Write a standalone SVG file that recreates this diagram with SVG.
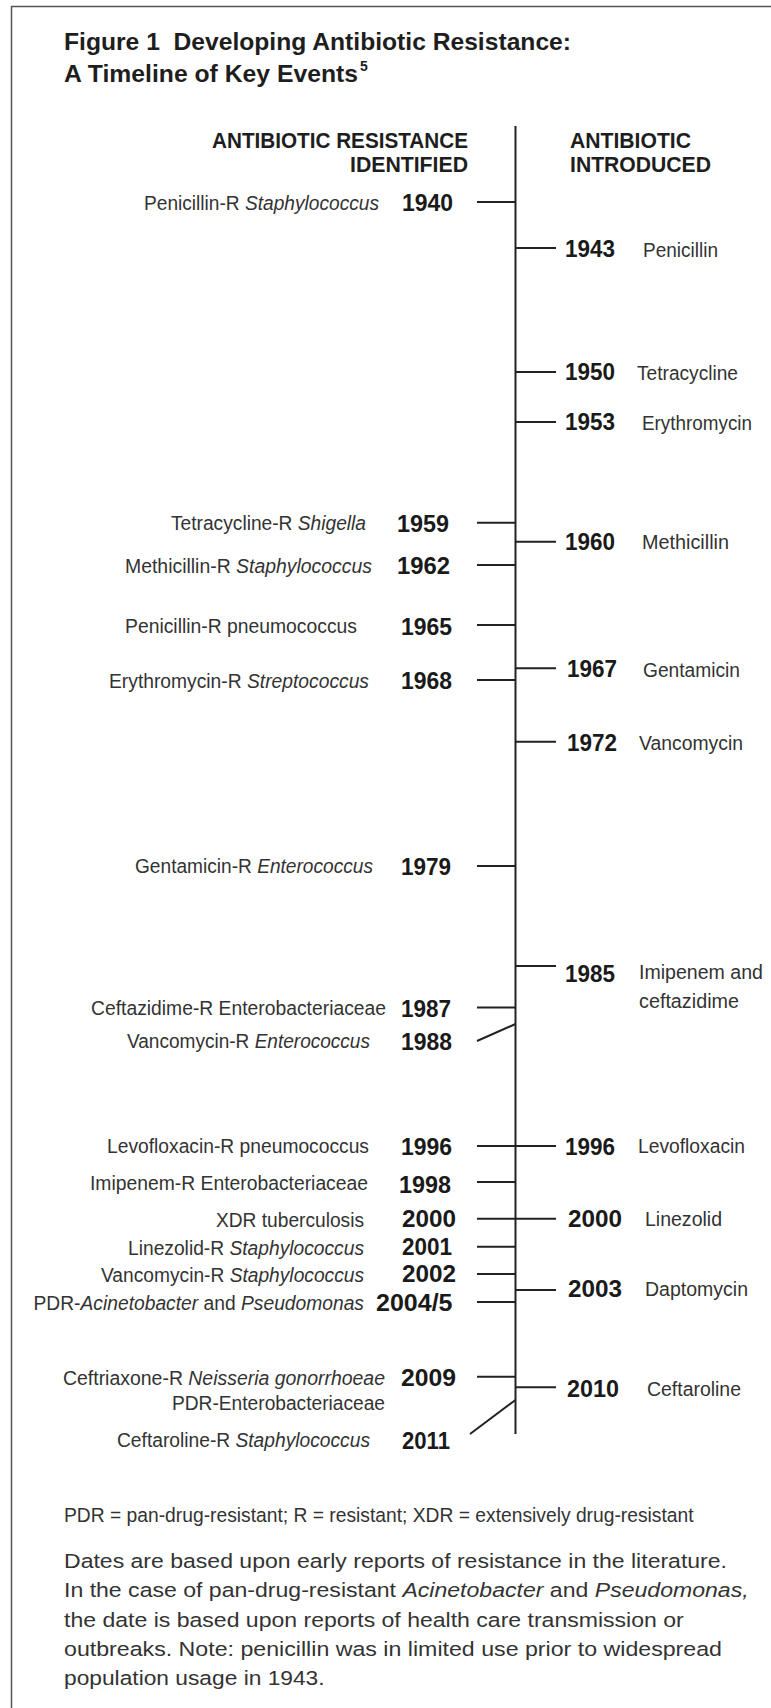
<svg xmlns="http://www.w3.org/2000/svg" width="771" height="1708" viewBox="0 0 771 1708">
<style>
text{font-family:"Liberation Sans",Arial,sans-serif}
.t{font-size:24px;font-weight:bold;fill:#1e1e1e}
.h{font-size:22.5px;font-weight:bold;fill:#1e1e1e}
.l{font-size:19.5px;fill:#333}
.y{font-size:23px;font-weight:bold;fill:#1a1a1a}
.f{font-size:20.5px;fill:#333}
.i{font-style:italic}
.ln{stroke:#222;stroke-width:2;fill:none}
.fr{stroke:#555;stroke-width:1.5;fill:none}
</style>
<rect width="771" height="1708" fill="#fff"/>
<path class="fr" d="M11.5,1708 V6.5 H771"/>
<g id="title">
<text class="t" x="64" y="50" textLength="507" lengthAdjust="spacingAndGlyphs">Figure 1&#160; Developing Antibiotic Resistance:</text>
<text class="t" x="64" y="82" textLength="294" lengthAdjust="spacingAndGlyphs">A Timeline of Key Events</text>
<text x="360" y="71" style="font-size:14px;font-weight:bold;fill:#1e1e1e">5</text>
</g>
<g id="headers">
<text class="h" x="212" y="148" textLength="256" lengthAdjust="spacingAndGlyphs">ANTIBIOTIC RESISTANCE</text>
<text class="h" x="350" y="172" textLength="118" lengthAdjust="spacingAndGlyphs">IDENTIFIED</text>
<text class="h" x="570" y="148" textLength="121" lengthAdjust="spacingAndGlyphs">ANTIBIOTIC</text>
<text class="h" x="570" y="172" textLength="141" lengthAdjust="spacingAndGlyphs">INTRODUCED</text>
</g>
<g id="connectors">
<path class="ln" d="M515.5,126 V1434"/>
<path class="ln" d="M477,202 H515.5 M515.5,248 H556 M515.5,372 H556 M515.5,422 H556 M477,522.7 H515.5 M515.5,541.7 H556 M477,565 H515.5 M477,625 H515.5 M515.5,668.3 H556 M477,680 H515.5 M515.5,741.7 H556 M477,866 H515.5 M515.5,966 H556 M477,1007.5 H515.5 M477,1041 L515.5,1024 M477,1146 H556 M477,1182 H515.5 M477,1218.7 H556 M477,1246.7 H515.5 M477,1274 H515.5 M515.5,1290 H556 M477,1302 H515.5 M477,1376.7 H515.5 M515.5,1387.3 H556 M470,1434 L515.5,1400"/>
</g>
<g id="e1940"><text class="l" x="144" y="210" textLength="235" lengthAdjust="spacingAndGlyphs">Penicillin-R <tspan class="i">Staphylococcus</tspan></text><text class="y" x="402" y="211" textLength="51" lengthAdjust="spacingAndGlyphs">1940</text></g>
<g id="i1943"><text class="y" x="565" y="257" textLength="50" lengthAdjust="spacingAndGlyphs">1943</text><text class="l" x="643" y="257" textLength="75" lengthAdjust="spacingAndGlyphs">Penicillin</text></g>
<g id="i1950"><text class="y" x="565" y="380" textLength="50" lengthAdjust="spacingAndGlyphs">1950</text><text class="l" x="637" y="380" textLength="101" lengthAdjust="spacingAndGlyphs">Tetracycline</text></g>
<g id="i1953"><text class="y" x="565" y="430" textLength="50" lengthAdjust="spacingAndGlyphs">1953</text><text class="l" x="642" y="430" textLength="110" lengthAdjust="spacingAndGlyphs">Erythromycin</text></g>
<g id="e1959"><text class="l" x="171" y="530" textLength="195" lengthAdjust="spacingAndGlyphs">Tetracycline-R <tspan class="i">Shigella</tspan></text><text class="y" x="397" y="531.5" textLength="52" lengthAdjust="spacingAndGlyphs">1959</text></g>
<g id="i1960"><text class="y" x="565" y="549.5" textLength="50" lengthAdjust="spacingAndGlyphs">1960</text><text class="l" x="642" y="549" textLength="87" lengthAdjust="spacingAndGlyphs">Methicillin</text></g>
<g id="e1962"><text class="l" x="125" y="573" textLength="247" lengthAdjust="spacingAndGlyphs">Methicillin-R <tspan class="i">Staphylococcus</tspan></text><text class="y" x="397" y="574" textLength="53" lengthAdjust="spacingAndGlyphs">1962</text></g>
<g id="e1965"><text class="l" x="125" y="633" textLength="232" lengthAdjust="spacingAndGlyphs">Penicillin-R pneumococcus</text><text class="y" x="401" y="635" textLength="51" lengthAdjust="spacingAndGlyphs">1965</text></g>
<g id="i1967"><text class="y" x="567" y="677" textLength="50" lengthAdjust="spacingAndGlyphs">1967</text><text class="l" x="643" y="677" textLength="97" lengthAdjust="spacingAndGlyphs">Gentamicin</text></g>
<g id="e1968"><text class="l" x="109" y="688" textLength="260" lengthAdjust="spacingAndGlyphs">Erythromycin-R <tspan class="i">Streptococcus</tspan></text><text class="y" x="401" y="689" textLength="51" lengthAdjust="spacingAndGlyphs">1968</text></g>
<g id="i1972"><text class="y" x="567" y="750.5" textLength="50" lengthAdjust="spacingAndGlyphs">1972</text><text class="l" x="639" y="750" textLength="104" lengthAdjust="spacingAndGlyphs">Vancomycin</text></g>
<g id="e1979"><text class="l" x="135" y="873" textLength="238" lengthAdjust="spacingAndGlyphs">Gentamicin-R <tspan class="i">Enterococcus</tspan></text><text class="y" x="401" y="875" textLength="50" lengthAdjust="spacingAndGlyphs">1979</text></g>
<g id="i1985"><text class="y" x="565" y="981.5" textLength="50" lengthAdjust="spacingAndGlyphs">1985</text><text class="l" x="639" y="979" textLength="124" lengthAdjust="spacingAndGlyphs">Imipenem and</text><text class="l" x="639" y="1008" textLength="100" lengthAdjust="spacingAndGlyphs">ceftazidime</text></g>
<g id="e1987"><text class="l" x="91" y="1015" textLength="295" lengthAdjust="spacingAndGlyphs">Ceftazidime-R Enterobacteriaceae</text><text class="y" x="401" y="1016.5" textLength="50" lengthAdjust="spacingAndGlyphs">1987</text></g>
<g id="e1988"><text class="l" x="127" y="1048" textLength="243" lengthAdjust="spacingAndGlyphs">Vancomycin-R <tspan class="i">Enterococcus</tspan></text><text class="y" x="401" y="1050" textLength="51" lengthAdjust="spacingAndGlyphs">1988</text></g>
<g id="e1996"><text class="l" x="107" y="1153" textLength="262" lengthAdjust="spacingAndGlyphs">Levofloxacin-R pneumococcus</text><text class="y" x="401" y="1155" textLength="51" lengthAdjust="spacingAndGlyphs">1996</text></g>
<g id="i1996"><text class="y" x="565" y="1155" textLength="50" lengthAdjust="spacingAndGlyphs">1996</text><text class="l" x="638" y="1153" textLength="107" lengthAdjust="spacingAndGlyphs">Levofloxacin</text></g>
<g id="e1998"><text class="l" x="90" y="1190" textLength="278" lengthAdjust="spacingAndGlyphs">Imipenem-R Enterobacteriaceae</text><text class="y" x="399" y="1192.5" textLength="52" lengthAdjust="spacingAndGlyphs">1998</text></g>
<g id="e2000"><text class="l" x="216" y="1227" textLength="148" lengthAdjust="spacingAndGlyphs">XDR tuberculosis</text><text class="y" x="402" y="1227.3" textLength="54" lengthAdjust="spacingAndGlyphs">2000</text></g>
<g id="i2000"><text class="y" x="568" y="1226.7" textLength="54" lengthAdjust="spacingAndGlyphs">2000</text><text class="l" x="645" y="1226" textLength="77" lengthAdjust="spacingAndGlyphs">Linezolid</text></g>
<g id="e2001"><text class="l" x="128" y="1255" textLength="236" lengthAdjust="spacingAndGlyphs">Linezolid-R <tspan class="i">Staphylococcus</tspan></text><text class="y" x="402" y="1255" textLength="50" lengthAdjust="spacingAndGlyphs">2001</text></g>
<g id="e2002"><text class="l" x="101" y="1281.7" textLength="263" lengthAdjust="spacingAndGlyphs">Vancomycin-R <tspan class="i">Staphylococcus</tspan></text><text class="y" x="402" y="1282" textLength="54" lengthAdjust="spacingAndGlyphs">2002</text></g>
<g id="i2003"><text class="y" x="568" y="1296.7" textLength="54" lengthAdjust="spacingAndGlyphs">2003</text><text class="l" x="645" y="1296" textLength="103" lengthAdjust="spacingAndGlyphs">Daptomycin</text></g>
<g id="e2004"><text class="l" x="33.5" y="1310" textLength="330.5" lengthAdjust="spacingAndGlyphs">PDR-<tspan class="i">Acinetobacter</tspan> and <tspan class="i">Pseudomonas</tspan></text><text class="y" x="376" y="1310.5" textLength="76.5" lengthAdjust="spacingAndGlyphs">2004/5</text></g>
<g id="e2009"><text class="l" x="63" y="1385" textLength="322" lengthAdjust="spacingAndGlyphs">Ceftriaxone-R <tspan class="i">Neisseria gonorrhoeae</tspan></text><text class="y" x="401" y="1385.5" textLength="55" lengthAdjust="spacingAndGlyphs">2009</text><text class="l" x="172" y="1410" textLength="213" lengthAdjust="spacingAndGlyphs">PDR-Enterobacteriaceae</text></g>
<g id="i2010"><text class="y" x="567" y="1396.7" textLength="52" lengthAdjust="spacingAndGlyphs">2010</text><text class="l" x="647" y="1396" textLength="94" lengthAdjust="spacingAndGlyphs">Ceftaroline</text></g>
<g id="e2011"><text class="l" x="117" y="1446.7" textLength="253" lengthAdjust="spacingAndGlyphs">Ceftaroline-R <tspan class="i">Staphylococcus</tspan></text><text class="y" x="402" y="1449" textLength="48" lengthAdjust="spacingAndGlyphs">2011</text></g>
<g id="notes">
<text class="f" x="64" y="1521.7" textLength="629.6" lengthAdjust="spacingAndGlyphs">PDR = pan-drug-resistant; R = resistant; XDR = extensively drug-resistant</text>
<text class="f" x="64" y="1568.3" textLength="663" lengthAdjust="spacingAndGlyphs">Dates are based upon early reports of resistance in the literature.</text>
<text class="f" x="64" y="1597.3" textLength="684.6" lengthAdjust="spacingAndGlyphs">In the case of pan-drug-resistant <tspan class="i">Acinetobacter</tspan> and <tspan class="i">Pseudomonas,</tspan></text>
<text class="f" x="64" y="1626.7" textLength="619.7" lengthAdjust="spacingAndGlyphs">the date is based upon reports of health care transmission or</text>
<text class="f" x="64" y="1656" textLength="658" lengthAdjust="spacingAndGlyphs">outbreaks. Note: penicillin was in limited use prior to widespread</text>
<text class="f" x="64" y="1685" textLength="260.6" lengthAdjust="spacingAndGlyphs">population usage in 1943.</text>
</g>
</svg>
